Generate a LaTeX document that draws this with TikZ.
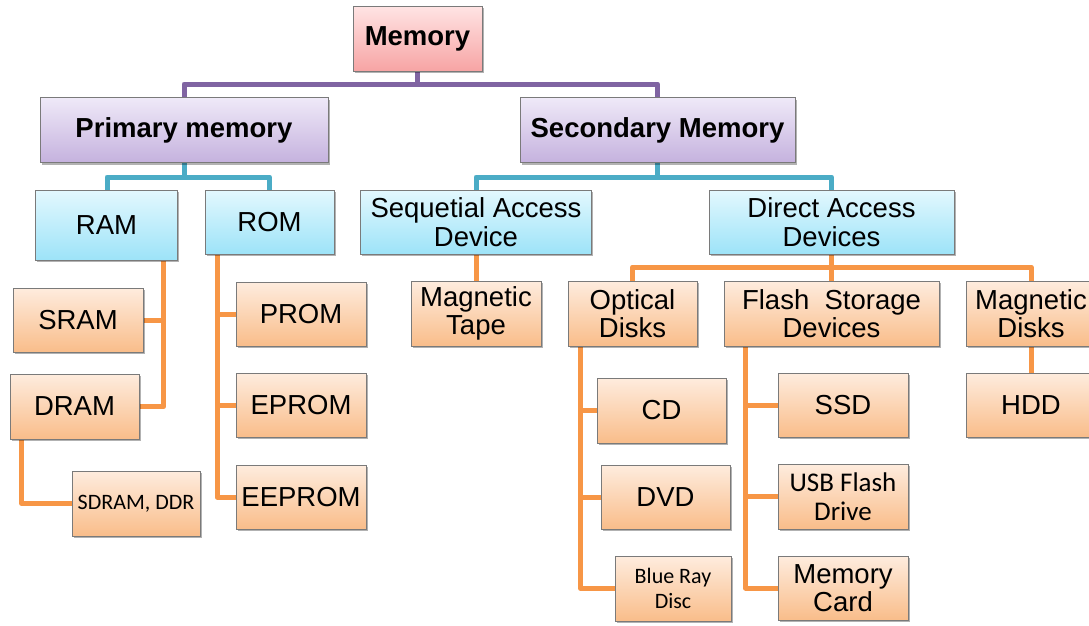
\documentclass[tikz,border=0pt]{standalone}
\usepackage{fontspec}
\setmainfont{Liberation Sans}
\newfontfamily\carlito{Carlito}
\usetikzlibrary{shadows,backgrounds}
\definecolor{boxline}{HTML}{7A7A7A}
\definecolor{pinkT}{HTML}{FFE4E4}
\definecolor{pinkB}{HTML}{F7A4A4}
\definecolor{purT}{HTML}{EFE9F8}
\definecolor{purB}{HTML}{C5B2DE}
\definecolor{cyaT}{HTML}{E3F8FE}
\definecolor{cyaB}{HTML}{9DE3F8}
\definecolor{oraT}{HTML}{FEECDE}
\definecolor{oraB}{HTML}{F9BD8A}
\definecolor{purL}{HTML}{8064A2}
\definecolor{cyaL}{HTML}{4BACC6}
\definecolor{oraL}{HTML}{F79646}
\begin{document}
\begin{tikzpicture}[x=1pt,y=-1pt,
  box/.style={draw=boxline, line width=0.8pt, align=center, inner sep=0pt,
    drop shadow={shadow xshift=1.5pt,shadow yshift=-2pt,opacity=0.3,fill=black},
    font=\fontsize{27.5}{28.5}\selectfont},
  sz/.style 2 args={minimum width=#1pt, minimum height=#2pt},
  pinkbox/.style={box, top color=pinkT, bottom color=pinkB},
  purbox/.style={box, top color=purT, bottom color=purB},
  cyabox/.style={box, top color=cyaT, bottom color=cyaB},
  orabox/.style={box, top color=oraT, bottom color=oraB},
  conn/.style={line width=5pt, line join=round},
  pline/.style={conn, draw=purL},
  cline/.style={conn, draw=cyaL},
  oline/.style={conn, draw=oraL}
]
\path[use as bounding box, clip] (0,0) rectangle (1089,625);

% level 0/1
\node[pinkbox, sz={129}{65}] (mem) at (417.5,38.5) {\textbf{Memory}};
\node[purbox, sz={288}{65}] (prim) at (184,130) {\textbf{Primary memory}};
\node[purbox, sz={275}{65}] (sec) at (657.5,130) {\textbf{Secondary Memory}};

% level 2
\node[cyabox, sz={142}{70}] (ram) at (106.5,225) {RAM};
\node[cyabox, sz={129}{64}] (rom) at (269.5,222) {ROM};
\node[cyabox, sz={231}{64}] (seq) at (476,222) {Sequetial Access\\Device};
\node[cyabox, sz={245}{64}] (dir) at (831.5,222) {Direct Access\\Devices};

% RAM / ROM children
\node[orabox, sz={130}{64}] (sram) at (78,320) {SRAM};
\node[orabox, sz={129}{65}] (dram) at (74.5,406.5) {DRAM};
\node[orabox, sz={128}{65}, font=\carlito\fontsize{22}{25}\selectfont] (sdram) at (136,503.5) {SDRAM, DDR};
\node[orabox, sz={130}{64}] (prom) at (301,314) {PROM};
\node[orabox, sz={130}{64}] (eprom) at (301,405) {EPROM};
\node[orabox, sz={130}{64}] (eeprom) at (301,497) {EEPROM};

% secondary children
\node[orabox, sz={130}{65}] (mtape) at (476,313.5) {Magnetic\\Tape};
\node[orabox, sz={129}{65}] (optical) at (632.5,313.5) {Optical\\Disks};
\node[orabox, sz={215}{65}] (flash) at (831.5,313.5) {Flash~~Storage\\Devices};
\node[orabox, sz={130}{65}] (mdisks) at (1031,313.5) {Magnetic\\Disks};

\node[orabox, sz={129}{65}] (cd) at (661.5,410.5) {CD};
\node[orabox, sz={129}{64}] (dvd) at (665.5,497) {DVD};
\node[orabox, sz={116}{65}, font=\carlito\fontsize{22}{25}\selectfont] (blue) at (673,588.5) {Blue Ray\\Disc};
\node[orabox, sz={130}{64}] (ssd) at (843,405) {SSD};
\node[orabox, sz={130}{65}, font=\carlito\fontsize{27}{29}\selectfont] (usb) at (843,496.5) {USB Flash\\Drive};
\node[orabox, sz={130}{64}] (mcard) at (843,588) {Memory\\Card};
\node[orabox, sz={130}{64}] (hdd) at (1031,405) {HDD};

\begin{scope}[on background layer]
% purple
\draw[pline] (mem.south) -- (mem.south |- 0,84) -| (prim.north);
\draw[pline] (mem.south |- 0,84) -| (sec.north);
% cyan
\draw[cline] (prim.south) -- (prim.south |- 0,177) -| ([xshift=0.5pt]ram.north);
\draw[cline] (prim.south |- 0,177) -| (rom.north);
\draw[cline] (sec.south) -- (sec.south |- 0,177) -| (seq.north);
\draw[cline] (sec.south |- 0,177) -| (dir.north);
% RAM
\coordinate (ramv) at ([xshift=-14pt]ram.south east);
\draw[oline] (ramv) |- (dram.east);
\draw[oline] (sram.east) -- (sram.east -| ramv);
% DRAM
\draw[oline] ([xshift=12pt]dram.south west) |- (sdram.west);
% ROM
\coordinate (romv) at ([xshift=12.5pt]rom.south west);
\draw[oline] (romv) |- (eeprom.west);
\draw[oline] (prom.west) -- (prom.west -| romv);
\draw[oline] (eprom.west) -- (eprom.west -| romv);
% sequential
\draw[oline] (seq.south) -- (mtape.north);
% direct
\draw[oline] (dir.south) -- (flash.north);
\draw[oline] (dir.south |- 0,267) -| (optical.north);
\draw[oline] (dir.south |- 0,267) -| (mdisks.north);
% optical
\coordinate (optv) at ([xshift=13pt]optical.south west);
\draw[oline] (optv) |- (blue.west);
\draw[oline] (cd.west) -- (cd.west -| optv);
\draw[oline] (dvd.west) -- (dvd.west -| optv);
% flash
\coordinate (flv) at ([xshift=22pt]flash.south west);
\draw[oline] (flv) |- (mcard.west);
\draw[oline] (ssd.west) -- (ssd.west -| flv);
\draw[oline] (usb.west) -- (usb.west -| flv);
% magnetic disks
\draw[oline] (mdisks.south) -- (hdd.north);
\end{scope}
\end{tikzpicture}
\end{document}
